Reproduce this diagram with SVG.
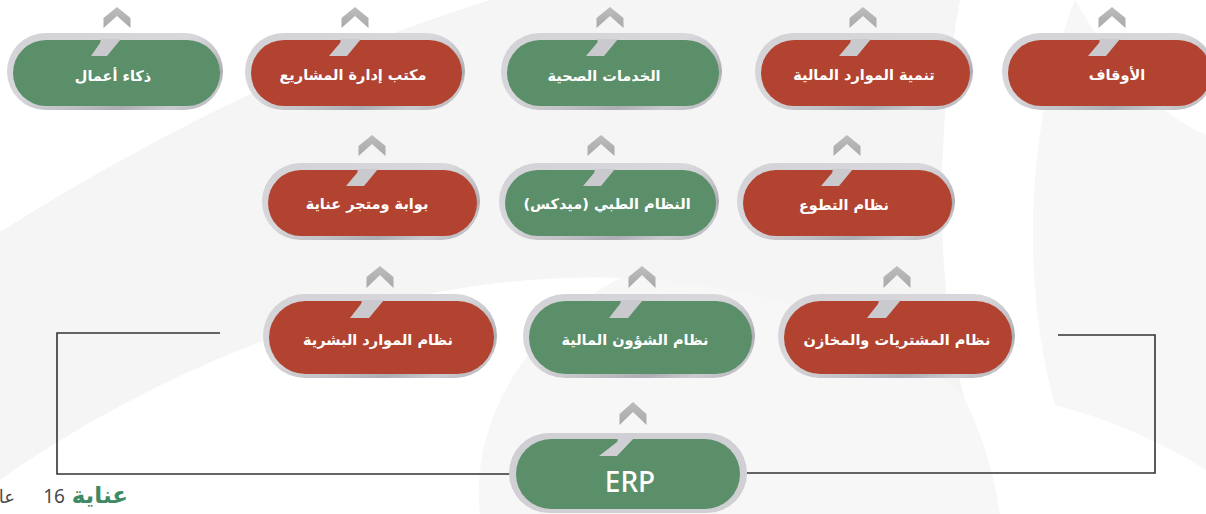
<svg xmlns="http://www.w3.org/2000/svg" width="1206" height="514" viewBox="0 0 1206 514">
<defs>
<linearGradient id="ringG" x1="0" y1="0" x2="1" y2="1">
<stop offset="0" stop-color="#d2d2d7"/>
<stop offset="0.45" stop-color="#d7d7dc"/>
<stop offset="0.62" stop-color="#c2c2c7"/>
<stop offset="0.75" stop-color="#acacb2"/>
<stop offset="0.86" stop-color="#cacacf"/>
<stop offset="1" stop-color="#b0b0b6"/>
</linearGradient>
<linearGradient id="chevG" x1="0" y1="0" x2="0" y2="1">
<stop offset="0" stop-color="#bdbdbd"/>
<stop offset="1" stop-color="#a9a9a9"/>
</linearGradient>
</defs>
<style>
.ring{fill:url(#ringG)}
.ring.plain{fill:#cfcfd4}
.notch{fill:#c9c9ce}
.red .fill{fill:#b24330}
.green .fill{fill:#5a8f69}
.chev{fill:url(#chevG)}
.lbl{font-family:"DejaVu Sans","Noto Sans",sans-serif;font-weight:bold;fill:#ffffff;text-anchor:middle;direction:rtl;font-size:14.5px}
.erp{font-family:"Noto Sans","Open Sans",sans-serif;font-weight:500;font-size:28px;fill:#ffffff;text-anchor:middle}
.conn{fill:none;stroke:#333333;stroke-width:1.6}
.bg{fill:#f5f5f5}
.bg2{fill:#f7f7f7}
.ft{font-family:"Noto Sans","DejaVu Sans",sans-serif;direction:rtl;text-anchor:start}
</style>
<rect width="1206" height="514" fill="#ffffff"/>
<g id="background">
<path class="bg" d="M0,232 C170,125 330,50 490,0 L960,0 C935,130 935,290 965,400 C900,330 760,284 620,278 C400,270 170,360 0,480 Z"/>
<path class="bg2" d="M620,278 C770,284 900,330 965,400 C985,440 995,480 1000,514 L480,514 C470,430 520,330 620,278 Z"/>
<path class="bg2" d="M1075,0 C1115,70 1160,115 1206,135 L1206,470 C1150,435 1095,415 1055,405 C1025,300 1020,140 1075,0 Z"/>
</g>
<g id="connectors">
<path class="conn" d="M220,333 H57 V474 H510"/>
<path class="conn" d="M1058,335 H1155 V473 H747"/>
<path class="chev" d="M103.5,18 L117,7 L130.5,18 L130.5,28 L117,16 L103.5,28 Z"/>
<path class="chev" d="M341.5,18 L355,7 L368.5,18 L368.5,28 L355,16 L341.5,28 Z"/>
<path class="chev" d="M596.5,18 L610,7 L623.5,18 L623.5,28 L610,16 L596.5,28 Z"/>
<path class="chev" d="M849.5,18 L863,7 L876.5,18 L876.5,28 L863,16 L849.5,28 Z"/>
<path class="chev" d="M1098.5,18 L1112,7 L1125.5,18 L1125.5,28 L1112,16 L1098.5,28 Z"/>
<path class="chev" d="M358.5,146 L372,135 L385.5,146 L385.5,156 L372,144 L358.5,156 Z"/>
<path class="chev" d="M587.5,146 L601,135 L614.5,146 L614.5,156 L601,144 L587.5,156 Z"/>
<path class="chev" d="M833.5,146 L847,135 L860.5,146 L860.5,156 L847,144 L833.5,156 Z"/>
<path class="chev" d="M366.5,277 L380,266 L393.5,277 L393.5,288 L380,275 L366.5,288 Z"/>
<path class="chev" d="M628.5,277 L642,266 L655.5,277 L655.5,288 L642,275 L628.5,288 Z"/>
<path class="chev" d="M883.5,277 L897,266 L910.5,277 L910.5,288 L897,275 L883.5,288 Z"/>
<path class="chev" d="M619.5,414 L633,402 L646.5,414 L646.5,425 L633,412 L619.5,425 Z"/>
</g>
<g id="n-bi" class="green">
<rect class="ring" x="7" y="33" width="216" height="77" rx="38.5"/>
<rect class="fill" x="13" y="40" width="207" height="66" rx="33"/>
<path class="notch" d="M98,39 Q102,39 100,43 L91,56 L107,56 L121,39 Z"/>
<text class="lbl" x="113" y="81">ذكاء أعمال</text>
</g>
<g id="n-pmo" class="red">
<rect class="ring" x="245" y="33" width="220" height="77" rx="38.5"/>
<rect class="fill" x="251" y="40" width="211" height="66" rx="33"/>
<path class="notch" d="M338,39 Q342,39 340,43 L329,56 L347,56 L361,39 Z"/>
<text class="lbl" x="353" y="80">مكتب إدارة المشاريع</text>
</g>
<g id="n-health" class="green">
<rect class="ring" x="501" y="33" width="221" height="77" rx="38.5"/>
<rect class="fill" x="507" y="40" width="212" height="66" rx="33"/>
<path class="notch" d="M595,39 Q599,39 597,43 L586,56 L604,56 L618,39 Z"/>
<text class="lbl" x="604" y="81">الخدمات الصحية</text>
</g>
<g id="n-fundraising" class="red">
<rect class="ring" x="755" y="33" width="218" height="77" rx="38.5"/>
<rect class="fill" x="761" y="40" width="209" height="66" rx="33"/>
<path class="notch" d="M848,39 Q852,39 850,43 L839,56 L857,56 L871,39 Z"/>
<text class="lbl" x="864" y="80">تنمية الموارد المالية</text>
</g>
<g id="n-awqaf" class="red">
<rect class="ring" x="1002" y="33" width="212" height="77" rx="38.5"/>
<rect class="fill" x="1008" y="40" width="203" height="66" rx="33"/>
<path class="notch" d="M1097,39 Q1101,39 1099,43 L1088,56 L1106,56 L1120,39 Z"/>
<text class="lbl" x="1117" y="80">الأوقاف</text>
</g>
<g id="n-portal" class="red">
<rect class="ring" x="262" y="163" width="218" height="77" rx="38.5"/>
<rect class="fill" x="268" y="170" width="209" height="66" rx="33"/>
<path class="notch" d="M355,169 Q359,169 357,173 L346,186 L364,186 L378,169 Z"/>
<text class="lbl" x="367" y="209">بوابة ومتجر عناية</text>
</g>
<g id="n-medics" class="green">
<rect class="ring" x="499" y="163" width="220" height="77" rx="38.5"/>
<rect class="fill" x="505" y="170" width="211" height="66" rx="33"/>
<path class="notch" d="M592,169 Q596,169 594,173 L583,186 L601,186 L615,169 Z"/>
<text class="lbl" x="607" y="209">النظام الطبي (ميدكس)</text>
</g>
<g id="n-volunteer" class="red">
<rect class="ring" x="737" y="163" width="218" height="77" rx="38.5"/>
<rect class="fill" x="743" y="170" width="209" height="66" rx="33"/>
<path class="notch" d="M830,169 Q834,169 832,173 L821,186 L839,186 L853,169 Z"/>
<text class="lbl" x="844" y="210">نظام التطوع</text>
</g>
<g id="n-hr" class="red">
<rect class="ring" x="263" y="294" width="234" height="84" rx="42"/>
<rect class="fill" x="269" y="301" width="225" height="73" rx="36.5"/>
<path class="notch" d="M359,300 Q363,300 361,304 L350,318 L369,318 L384,300 Z"/>
<text class="lbl" x="378" y="345">نظام الموارد البشرية</text>
</g>
<g id="n-finance" class="green">
<rect class="ring" x="523" y="294" width="232" height="84" rx="42"/>
<rect class="fill" x="529" y="301" width="223" height="73" rx="36.5"/>
<path class="notch" d="M618,300 Q622,300 620,304 L609,318 L628,318 L643,300 Z"/>
<text class="lbl" x="635" y="345">نظام الشؤون المالية</text>
</g>
<g id="n-procurement" class="red">
<rect class="ring" x="778" y="294" width="237" height="84" rx="42"/>
<rect class="fill" x="784" y="301" width="228" height="73" rx="36.5"/>
<path class="notch" d="M876,300 Q880,300 878,304 L867,318 L886,318 L901,300 Z"/>
<text class="lbl" x="897" y="345">نظام المشتريات والمخازن</text>
</g>
<g id="n-erp" class="green">
<rect class="ring plain" x="509" y="433" width="238" height="80" rx="40"/>
<rect class="fill" x="516" y="439" width="224" height="70" rx="35"/>
<path d="M615,438 Q619,438 617,442 L599,456 L617,456 L634,438 Z" fill="#cfcfd4"/>
<text class="erp" x="630" y="492">ERP</text>
</g>
<g id="footer">
<text class="ft" x="128" y="503" font-size="23" font-weight="bold" fill="#3f8a64" style="font-family:'DejaVu Sans',sans-serif">عناية</text>
<text class="ft" x="65" y="503" font-size="19" fill="#4a4a4a">16</text>
<text class="ft" x="15" y="503" font-size="18" fill="#4a4a4a">عا</text>
</g>
</svg>
